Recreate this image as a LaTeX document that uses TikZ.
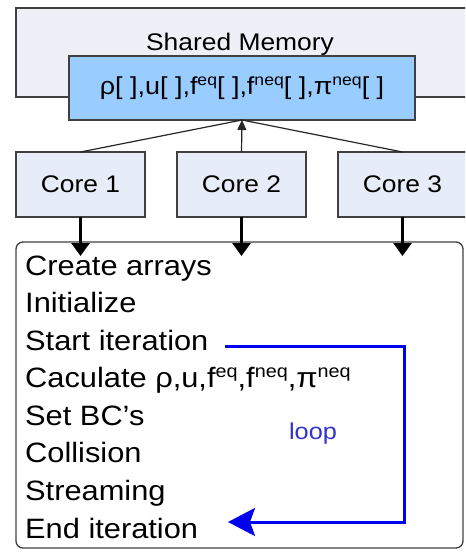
\documentclass[tikz,border=0pt]{standalone}
\usepackage{fontspec}
\setmainfont{Liberation Sans}[FakeStretch=1.1]
\usetikzlibrary{arrows.meta}
\definecolor{memfill}{HTML}{EEF0F8}
\definecolor{corefill}{HTML}{E6ECF8}
\definecolor{arrfill}{HTML}{99CCFF}
\definecolor{edge}{HTML}{404040}
\definecolor{loopblue}{HTML}{0000F0}
\definecolor{looptext}{HTML}{3333CC}
\newcommand\mysup[1]{\raisebox{.38em}{\fontsize{16}{16}\selectfont #1}}
\newcommand\mysupb[1]{\raisebox{.38em}{\fontsize{18}{18}\selectfont #1}}
\begin{document}
\begin{tikzpicture}[x=1pt,y=-1pt,
  boxbase/.style={draw=edge,line width=1.3pt,inner sep=0pt,outer sep=0pt,anchor=center},
  membox/.style={boxbase,fill=memfill},
  arrbox/.style={boxbase,fill=arrfill},
  corebox/.style={boxbase,fill=corefill,font=\fontsize{24}{28}\selectfont},
  stepline/.style={anchor=base west,inner sep=0pt,font=\fontsize{28}{34}\selectfont},
  uparrow/.style={draw=black!85,line width=1.2pt,-{Triangle[length=10pt,width=9pt]}},
  sideline/.style={draw=black!85,line width=1.2pt},
  downarrow/.style={draw=black,line width=3pt,-{Triangle[length=13pt,width=18pt]}},
  loopline/.style={draw=loopblue,line width=3pt,-{Stealth[length=27pt,width=28pt,inset=5pt]}}]
\useasboundingbox (0,0) rectangle (465,553);
\clip (0,0) rectangle (465,553);
% shared memory
\node[membox,minimum width=452pt,minimum height=89pt] (mem) at (242,52.5) {};
\node[anchor=base,inner sep=0pt,font=\fontsize{24}{28}\selectfont] (memlabel) at (240,51) {Shared Memory};
\node[arrbox,minimum width=346pt,minimum height=64pt,font=\fontsize{24.5}{28}\selectfont] (arr) at (242,88)
  {ρ[ ],u[ ],f\mysup{eq}[ ],f\mysup{neq}[ ],π\mysup{neq}[ ]};
% cores
\node[corebox,minimum width=129pt,minimum height=65pt] (c1) at (80.5,184.5) {Core 1};
\node[corebox,minimum width=129pt,minimum height=65pt] (c2) at (241.5,184.5) {Core 2};
\node[corebox,minimum width=129pt,minimum height=65pt] (c3) at (402.5,184.5) {Core 3};
% main box
\node[draw=edge,line width=1.3pt,rounded corners=7pt,minimum width=447pt,minimum height=306pt,inner sep=0pt,outer sep=0pt] (main) at (239.5,395) {};
% connectors cores -> arrays
\draw[sideline] (c1.north) -- (arr.south);
\draw[sideline] (c3.north) -- (arr.south);
\draw[uparrow] (c2.north) -- (arr.south);
% down arrows
\coordinate (t1) at (c1.south |- 0,256);
\coordinate (t2) at (c2.south |- 0,256);
\coordinate (t3) at (c3.south |- 0,256);
\draw[downarrow] (c1.south) -- (t1);
\draw[downarrow] (c2.south) -- (t2);
\draw[downarrow] (c3.south) -- (t3);
% steps
\node[stepline] (s1) at (25,275) {Create arrays};
\node[stepline] (s2) at (25,312.6) {Initialize};
\node[stepline] (s3) at (25,350.1) {Start iteration};
\node[stepline] (s4) at (25,387.7) {Caculate ρ,u,f\mysupb{eq},f\mysupb{neq},π\mysupb{neq}};
\node[stepline] (s5) at (25,425.3) {Set BC’s};
\node[stepline] (s6) at (25,462.8) {Collision};
\node[stepline] (s7) at (25,500.4) {Streaming};
\node[stepline] (s8) at (25,538) {End iteration};
% loop
\coordinate (ls) at (225,346);
\coordinate (lc) at (404,346);
\coordinate (le) at (228,522);
\draw[loopline] (ls) -- (lc) |- (le);
\node[text=looptext,font=\fontsize{23}{28}\selectfont,inner sep=0pt] (looplabel) at (313,434) {loop};
\end{tikzpicture}
\end{document}
